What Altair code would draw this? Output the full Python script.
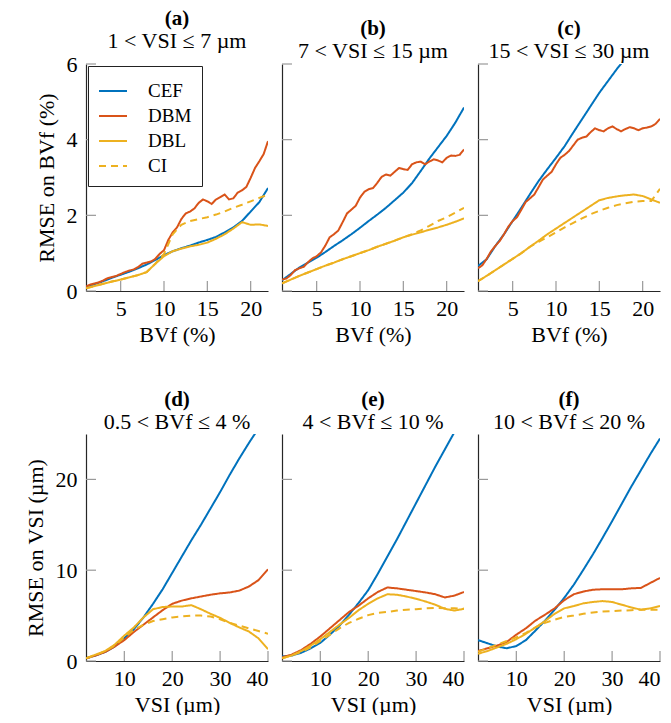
import altair as alt
import pandas as pd

METHODS = ["CEF", "DBM", "DBL", "CI"]
COLORS = ["#0072BD", "#D95319", "#EDB120", "#EDB120"]
DASHES = [[1, 0], [1, 0], [1, 0], [7, 5]]
FONT = "Liberation Serif"

# ---------- top row: x = BVf (%) ----------
bvf_x = list(range(1, 23))
bvf_half_x = [v / 2 for v in range(2, 45)]
a_cef = [0.10, 0.18, 0.26, 0.35, 0.43, 0.51, 0.60, 0.70, 0.82, 0.95, 1.05, 1.13, 1.20, 1.28, 1.35, 1.43, 1.55, 1.68, 1.85, 2.10, 2.35, 2.72]
a_dbm = [0.12, 0.17, 0.20, 0.23, 0.28, 0.34, 0.37, 0.40, 0.45, 0.50, 0.54, 0.57, 0.63, 0.72, 0.75, 0.78, 0.85, 0.98, 1.08, 1.35, 1.55, 1.68,
         1.90, 2.05, 2.10, 2.18, 2.33, 2.42, 2.37, 2.30, 2.42, 2.48, 2.55, 2.42, 2.45, 2.60, 2.66, 2.75, 2.99, 3.25, 3.43, 3.62, 3.96]
a_dbl = [0.07, 0.13, 0.19, 0.25, 0.30, 0.36, 0.42, 0.50, 0.72, 0.92, 1.05, 1.12, 1.18, 1.22, 1.28, 1.38, 1.50, 1.65, 1.82, 1.75, 1.76, 1.72]
a_ci = [0.07, 0.13, 0.19, 0.25, 0.30, 0.36, 0.42, 0.50, 0.72, 0.98, 1.50, 1.75, 1.85, 1.90, 1.95, 2.02, 2.10, 2.20, 2.28, 2.37, 2.46, 2.55]

b_cef = [0.28, 0.45, 0.62, 0.75, 0.88, 1.03, 1.19, 1.34, 1.50, 1.67, 1.85, 2.02, 2.20, 2.40, 2.60, 2.85, 3.17, 3.50, 3.80, 4.10, 4.45, 4.85]
b_dbm = [0.30, 0.33, 0.42, 0.55, 0.60, 0.64, 0.76, 0.86, 0.92, 1.02, 1.20, 1.42, 1.50, 1.60, 1.82, 2.05, 2.15, 2.25, 2.47, 2.62, 2.69, 2.72,
         2.86, 3.02, 3.08, 3.05, 3.15, 3.25, 3.22, 3.20, 3.35, 3.40, 3.42, 3.35, 3.42, 3.48, 3.45, 3.40, 3.52, 3.58, 3.57, 3.60, 3.74]
b_dbl = [0.20, 0.30, 0.40, 0.49, 0.58, 0.67, 0.75, 0.84, 0.92, 1.00, 1.08, 1.17, 1.25, 1.33, 1.42, 1.49, 1.55, 1.62, 1.68, 1.75, 1.83, 1.92]
b_ci = [0.20, 0.30, 0.40, 0.49, 0.58, 0.67, 0.75, 0.84, 0.92, 1.00, 1.08, 1.17, 1.25, 1.33, 1.42, 1.50, 1.60, 1.72, 1.85, 1.95, 2.07, 2.20]

c_cef = [0.66, 0.84, 1.19, 1.50, 1.85, 2.20, 2.56, 2.91, 3.22, 3.52, 3.83, 4.19, 4.54, 4.89, 5.24, 5.55, 5.86, 6.15, None, None, None, None]
c_dbm = [0.60, 0.68, 0.85, 1.05, 1.19, 1.32, 1.50, 1.70, 1.85, 1.95, 2.15, 2.35, 2.45, 2.55, 2.75, 2.95, 3.05, 3.15, 3.35, 3.52, 3.60, 3.70,
         3.85, 4.00, 4.05, 4.08, 4.20, 4.30, 4.25, 4.22, 4.30, 4.35, 4.28, 4.22, 4.28, 4.33, 4.30, 4.25, 4.30, 4.32, 4.35, 4.42, 4.55]
c_dbl = [0.26, 0.40, 0.55, 0.70, 0.85, 1.00, 1.17, 1.33, 1.50, 1.65, 1.80, 1.95, 2.10, 2.25, 2.40, 2.46, 2.50, 2.53, 2.55, 2.51, 2.42, 2.33]
c_ci = [0.26, 0.40, 0.55, 0.70, 0.85, 1.00, 1.17, 1.30, 1.42, 1.55, 1.68, 1.80, 1.92, 2.03, 2.12, 2.20, 2.27, 2.32, 2.36, 2.38, 2.38, 2.70]

# ---------- bottom row: x = VSI (um) ----------
vsi_x = list(range(2, 41, 2))
d_cef = [0.3, 0.6, 1.0, 1.6, 2.5, 3.5, 4.8, 6.3, 7.9, 9.7, 11.5, 13.3, 15.0, 16.8, 18.6, 20.5, 22.3, 24.0, 25.6, None]
d_dbm = [0.3, 0.6, 1.0, 1.6, 2.3, 3.2, 4.0, 4.8, 5.6, 6.3, 6.65, 6.9, 7.1, 7.3, 7.45, 7.55, 7.75, 8.2, 8.9, 10.1]
d_dbl = [0.3, 0.7, 1.1, 1.8, 2.8, 3.7, 4.8, 5.7, 5.95, 6.0, 6.0, 6.15, 5.7, 5.2, 4.75, 4.2, 3.7, 3.25, 2.5, 1.3]
d_ci = [0.3, 0.65, 1.1, 1.7, 2.6, 3.4, 4.0, 4.4, 4.6, 4.8, 4.9, 5.0, 5.0, 4.9, 4.6, 4.2, 3.9, 3.6, 3.3, 3.0]

e_cef = [0.5, 0.6, 0.9, 1.4, 2.0, 2.9, 3.9, 5.1, 6.4, 7.8, 9.6, 11.5, 13.4, 15.4, 17.4, 19.4, 21.4, 23.3, 25.2, None]
e_dbm = [0.4, 0.7, 1.2, 1.9, 2.7, 3.6, 4.5, 5.4, 6.1, 6.9, 7.6, 8.1, 8.0, 7.85, 7.7, 7.55, 7.35, 7.0, 7.2, 7.6]
e_dbl = [0.3, 0.6, 1.1, 1.7, 2.4, 3.2, 4.0, 4.75, 5.6, 6.3, 6.9, 7.35, 7.3, 7.1, 6.85, 6.55, 6.2, 5.75, 5.55, 5.75]
e_ci = [0.3, 0.6, 1.0, 1.5, 2.2, 2.9, 3.6, 4.2, 4.65, 5.05, 5.3, 5.4, 5.55, 5.65, 5.7, 5.8, 5.85, 5.8, 5.8, 5.75]

f_cef = [2.3, 1.95, 1.6, 1.4, 1.65, 2.3, 3.35, 4.45, 5.65, 6.95, 8.4, 10.05, 11.75, 13.55, 15.4, 17.3, 19.2, 21.0, 22.8, 24.5]
f_dbm = [1.1, 1.4, 1.7, 2.1, 2.9, 3.6, 4.45, 5.1, 5.8, 6.7, 7.35, 7.65, 7.85, 7.9, 7.9, 7.9, 8.0, 8.05, 8.6, 9.15]
f_dbl = [0.8, 1.1, 1.5, 1.9, 2.4, 3.0, 3.7, 4.4, 5.2, 5.8, 6.05, 6.35, 6.5, 6.6, 6.5, 6.2, 5.9, 5.65, 5.8, 6.05]
f_ci = [1.0, 1.4, 1.8, 2.2, 2.6, 3.1, 3.7, 4.2, 4.55, 4.85, 5.0, 5.2, 5.35, 5.45, 5.5, 5.55, 5.6, 5.65, 5.65, 5.65]

bvf_ticks = [5, 10, 15, 20]
bvf_rmse_ticks = [0, 2, 4, 6]
vsi_ticks = [10, 20, 30, 40]
vsi_rmse_ticks = [0, 10, 20]

W, H = 182, 227


def make_df(series):
    rows = []
    for m, (xs, vals) in zip(METHODS, series):
        for x, v in zip(xs, vals):
            if v is not None:
                rows.append({"x": x, "method": m, "v": v})
    return pd.DataFrame(rows)


def panel(series, xdom, ydom, xticks, yticks, letter, sub, xtitle, ytitle,
          first_col, legend):
    df = make_df(series)
    xscale = alt.Scale(domain=xdom, nice=False, zero=False)
    yscale = alt.Scale(domain=ydom, nice=False, zero=False)
    if legend:
        leg = alt.Legend(orient="top-left", title=None, symbolType="stroke",
                         symbolSize=784, symbolStrokeWidth=2,
                         labelFont=FONT, labelFontSize=19, labelColor="black",
                         strokeColor="#222222", fillColor="white",
                         padding=10, offset=2, rowPadding=-1, labelOffset=20)
    else:
        leg = None
    if first_col:
        yaxis = alt.Axis(values=yticks, ticks=False, grid=False, title=ytitle,
                         labelPadding=9, titlePadding=8)
    else:
        yaxis = alt.Axis(values=yticks, ticks=False, grid=False, labels=False, title=None)
    lines = alt.Chart(df).mark_line(strokeWidth=2, clip=True).encode(
        x=alt.X("x:Q", scale=xscale, title=xtitle,
                axis=alt.Axis(values=xticks, ticks=False, grid=False,
                              labelPadding=7, titlePadding=5)),
        y=alt.Y("v:Q", scale=yscale, axis=yaxis),
        color=alt.Color("method:N", scale=alt.Scale(domain=METHODS, range=COLORS), legend=leg),
        strokeDash=alt.StrokeDash("method:N", scale=alt.Scale(domain=METHODS, range=DASHES), legend=leg),
    )
    xt = alt.Chart(pd.DataFrame({"t": xticks})).mark_rule(color="#999999", strokeWidth=1.2).encode(
        x=alt.X("t:Q"),
        y=alt.value(H), y2=alt.value(H - 10))
    yt = alt.Chart(pd.DataFrame({"t": yticks})).mark_rule(color="#999999", strokeWidth=1.2).encode(
        y=alt.Y("t:Q"),
        x=alt.value(0), x2=alt.value(10))
    return alt.layer(lines, xt, yt).properties(
        width=W, height=H,
        title=alt.TitleParams(text=letter, subtitle=sub, font=FONT, fontSize=21,
                              fontWeight="bold", color="black", subtitleFont=FONT,
                              subtitleFontSize=22, subtitleColor="black",
                              subtitlePadding=2, offset=1, anchor="middle"))


pa = panel([(bvf_x, a_cef), (bvf_half_x, a_dbm), (bvf_x, a_dbl), (bvf_x, a_ci)],
           [1, 22], [0, 6], bvf_ticks, bvf_rmse_ticks,
           "(a)", "1 < VSI ≤ 7 µm", "BVf (%)", "RMSE on BVf (%)", True, True)
pb = panel([(bvf_x, b_cef), (bvf_half_x, b_dbm), (bvf_x, b_dbl), (bvf_x, b_ci)],
           [1, 22], [0, 6], bvf_ticks, bvf_rmse_ticks,
           "(b)", "7 < VSI ≤ 15 µm", "BVf (%)", None, False, False)
pc = panel([(bvf_x, c_cef), (bvf_half_x, c_dbm), (bvf_x, c_dbl), (bvf_x, c_ci)],
           [1, 22], [0, 6], bvf_ticks, bvf_rmse_ticks,
           "(c)", "15 < VSI ≤ 30 µm", "BVf (%)", None, False, False)
pd_ = panel([(vsi_x, d_cef), (vsi_x, d_dbm), (vsi_x, d_dbl), (vsi_x, d_ci)],
            [2, 40], [0, 25], vsi_ticks, vsi_rmse_ticks,
            "(d)", "0.5 < BVf ≤ 4 %", "VSI (µm)", "RMSE on VSI (µm)", True, False)
pe = panel([(vsi_x, e_cef), (vsi_x, e_dbm), (vsi_x, e_dbl), (vsi_x, e_ci)],
           [2, 40], [0, 25], vsi_ticks, vsi_rmse_ticks,
           "(e)", "4 < BVf ≤ 10 %", "VSI (µm)", None, False, False)
pf = panel([(vsi_x, f_cef), (vsi_x, f_dbm), (vsi_x, f_dbl), (vsi_x, f_ci)],
           [2, 40], [0, 25], vsi_ticks, vsi_rmse_ticks,
           "(f)", "10 < BVf ≤ 20 %", "VSI (µm)", None, False, False)

row1 = alt.hconcat(pa, pb, pc, spacing=14, bounds="flush").resolve_scale(
    color="independent", strokeDash="independent")
row2 = alt.hconcat(pd_, pe, pf, spacing=14, bounds="flush").resolve_scale(
    color="independent", strokeDash="independent")

chart = alt.vconcat(row1, row2, spacing=370, bounds="flush").resolve_scale(
    color="independent", strokeDash="independent"
).properties(
    padding={"left": 16, "top": 0, "right": 0, "bottom": 0}
).configure_view(stroke=None).configure_axis(
    labelFont=FONT, labelFontSize=22, labelColor="black",
    titleFont=FONT, titleFontSize=22, titleFontWeight="normal", titleColor="black",
    domainColor="#262626", domainWidth=1.2,
)

chart.save("out.html", embed_options={"renderer": "svg", "actions": False})
